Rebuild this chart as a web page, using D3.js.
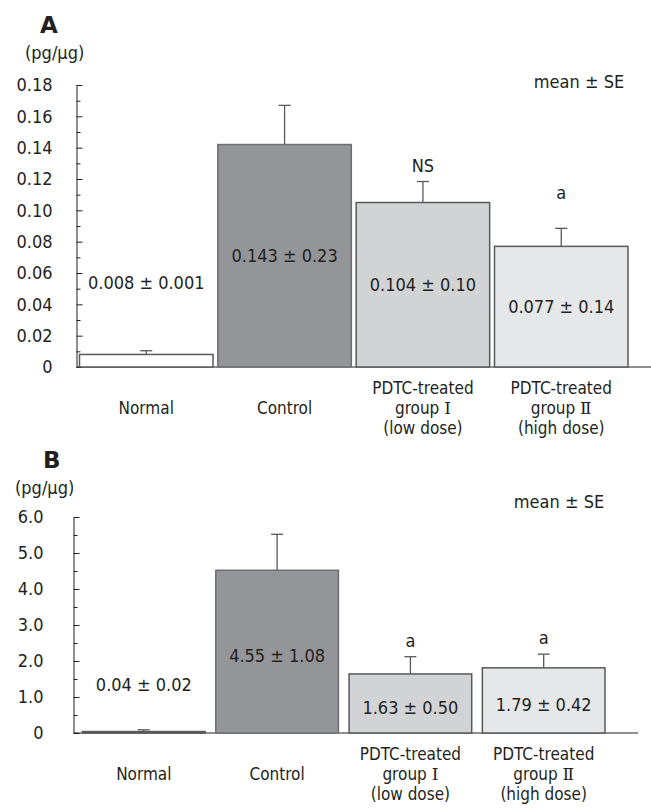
<!DOCTYPE html>
<html lang="en">
  <head>
    <meta charset="UTF-8" />
    <title>PDTC bar chart</title>
    <script src="https://d3js.org/d3.v7.min.js"></script>
    <style>
      body {
        margin: 0;
        background: #fff;
      }
      svg text {
        font-family: "DejaVu Sans Condensed", "DejaVu Sans", sans-serif;
        font-stretch: condensed;
        fill: #231f20;
      }
      svg text .roman {
        font-family: "Liberation Serif", "DejaVu Serif", serif;
        font-stretch: normal;
      }
    </style>
  </head>
  <body>
    <div id="chart"></div>
    <script>
      // data
      const categories = ["Normal", "Control", "PDTC-treated group Ⅰ (low dose)", "PDTC-treated group Ⅱ (high dose)"];
      const categoryLines = [
        ["Normal"],
        ["Control"],
        ["PDTC-treated", "group |Ⅰ", "(low dose)"],
        ["PDTC-treated", "group |Ⅱ", "(high dose)"],
      ];

      const meanA = [0.008, 0.142, 0.105, 0.077];
      const errA = [0.0024, 0.025, 0.0134, 0.0115];
      const textA = ["0.008 ± 0.001", "0.143 ± 0.23", "0.104 ± 0.10", "0.077 ± 0.14"];
      const sigA = ["", "", "NS", "a"];
      const ticksA = [0, 0.02, 0.04, 0.06, 0.08, 0.1, 0.12, 0.14, 0.16, 0.18];
      const minorA = [0.01, 0.03, 0.05, 0.07, 0.09, 0.11, 0.13, 0.15, 0.17];

      const meanB = [0.04, 4.52, 1.64, 1.81];
      const errB = [0.05, 1.0, 0.48, 0.38];
      const textB = ["0.04 ± 0.02", "4.55 ± 1.08", "1.63 ± 0.50", "1.79 ± 0.42"];
      const sigB = ["", "", "a", "a"];
      const ticksB = [0, 1, 2, 3, 4, 5, 6];
      const minorB = [0.5, 1.5, 2.5, 3.5, 4.5, 5.5];

      const fills = ["#ffffff", "#939598", "#d1d3d4", "#e6e7e8"];

      var width = 651,
        height = 809;

      var svg = d3
        .select("#chart")
        .append("svg")
        .attr("width", width)
        .attr("height", height);

      function drawPanel(p) {
        var g = svg.append("g");

        const y = d3.scaleLinear().domain([0, p.ticks[p.ticks.length - 1]]).range([p.y0, p.y1]);
        const x = d3.scaleBand().domain(categories).range([p.x0, p.x1]).paddingInner(p.pad).paddingOuter(0);

        // panel letter + unit
        g.append("text")
          .attr("x", p.letterX)
          .attr("y", p.letterY)
          .style("font-family", "'DejaVu Sans', sans-serif")
          .style("font-stretch", "normal")
          .style("font-weight", "bold")
          .style("font-size", "23px")
          .text(p.letter);
        g.append("text")
          .attr("x", p.unitX)
          .attr("y", p.unitY)
          .attr("dy", "0.35em")
          .style("font-size", "18px")
          .text("(pg/μg)");
        g.append("text")
          .attr("x", p.meanX)
          .attr("y", p.meanY)
          .attr("dy", "0.35em")
          .attr("text-anchor", "middle")
          .style("font-size", "18px")
          .text("mean ± SE");

        // y axis, minor then major ticks
        var minorAxis = g
          .append("g")
          .attr("transform", `translate(${p.axisX},0)`)
          .call(d3.axisLeft(y).tickValues(p.minor).tickSizeInner(-4).tickSizeOuter(0).tickFormat(""));
        minorAxis.select(".domain").remove();

        var axis = g
          .append("g")
          .attr("transform", `translate(${p.axisX},0)`)
          .call(
            d3
              .axisLeft(y)
              .tickValues(p.ticks)
              .tickSizeInner(-6)
              .tickSizeOuter(0)
              .tickPadding(p.labelPad)
              .tickFormat(p.fmt)
          );
        axis.selectAll("text").style("font-size", "18px").attr("font-family", null).attr("fill", "#231f20");
        svg.selectAll(".tick line").attr("stroke", "#231f20");
        axis.select(".domain").attr("stroke", "#231f20");

        // baseline
        g.append("line")
          .attr("x1", p.axisX)
          .attr("x2", p.baseEnd)
          .attr("y1", y(0))
          .attr("y2", y(0))
          .attr("stroke", "#231f20")
          .attr("stroke-width", 1.2);

        const rows = categories.map((c, i) => ({
          c: c,
          i: i,
          v: p.mean[i],
          e: p.err[i],
          t: p.text[i],
          s: p.sig[i],
        }));

        // error bars (behind the bars)
        rows.forEach(function (d) {
          var cx = x(d.c) + x.bandwidth() / 2;
          g.append("line")
            .attr("x1", cx)
            .attr("x2", cx)
            .attr("y1", y(d.v))
            .attr("y2", y(d.v + d.e))
            .attr("stroke", "#58595b")
            .attr("stroke-width", 1.3);
          g.append("line")
            .attr("x1", cx - 6)
            .attr("x2", cx + 6)
            .attr("y1", y(d.v + d.e))
            .attr("y2", y(d.v + d.e))
            .attr("stroke", "#58595b")
            .attr("stroke-width", 1.3);
        });

        g.selectAll("rect")
          .data(rows)
          .enter()
          .append("rect")
          .attr("x", (d) => x(d.c))
          .attr("y", (d) => y(d.v))
          .attr("width", x.bandwidth())
          .attr("height", (d) => y(0) - y(d.v))
          .attr("fill", (d) => fills[d.i])
          .attr("stroke", (d) => (d.i == 1 ? "#6d6e71" : "#58595b"))
          .attr("stroke-width", 1.5);

        // value labels
        g.selectAll(".val")
          .data(rows)
          .enter()
          .append("text")
          .attr("class", "val")
          .attr("x", (d) => x(d.c) + x.bandwidth() / 2)
          .attr("y", (d) => (d.i == 0 ? p.normalLabelY : y(d.v / 2) + p.valDy))
          .attr("dy", "0.35em")
          .attr("text-anchor", "middle")
          .style("font-size", "18px")
          .text((d) => d.t);

        // significance marks
        g.selectAll(".sig")
          .data(rows.filter((d) => d.s))
          .enter()
          .append("text")
          .attr("class", "sig")
          .attr("x", (d) => x(d.c) + x.bandwidth() / 2)
          .attr("y", (d) => y(d.v + d.e) - p.sigGap[d.i])
          .attr("dy", "0.35em")
          .attr("text-anchor", "middle")
          .style("font-size", "18px")
          .text((d) => d.s);

        // category labels ("|" splits off the roman numeral)
        rows.forEach(function (d) {
          var lines = categoryLines[d.i];
          var start = lines.length == 1 ? 1 : 0;
          lines.forEach(function (line, k) {
            var t = g
              .append("text")
              .attr("x", x(d.c) + x.bandwidth() / 2)
              .attr("y", y(0) + 21 + (start + k) * 20)
              .attr("dy", "0.35em")
              .attr("text-anchor", "middle")
              .style("font-size", "17px");
            var parts = line.split("|");
            t.append("tspan").text(parts[0]);
            if (parts[1]) t.append("tspan").attr("class", "roman").text(parts[1]);
          });
        });
      }

      drawPanel({
        letter: "A",
        letterX: 40,
        letterY: 33,
        unitX: 25,
        unitY: 53,
        meanX: 579,
        meanY: 82,
        mean: meanA,
        err: errA,
        text: textA,
        sig: sigA,
        ticks: ticksA,
        minor: minorA,
        fmt: (d) => (d === 0 ? "0" : d.toFixed(2)),
        y0: 367,
        y1: 85,
        x0: 79.5,
        x1: 628,
        pad: 0.035,
        axisX: 76.5,
        labelPad: 24,
        baseEnd: 651,
        normalLabelY: 283,
        valDy: 0,
        sigGap: [0, 0, 16, 36],
      });

      drawPanel({
        letter: "B",
        letterX: 43,
        letterY: 468,
        unitX: 15,
        unitY: 488,
        meanX: 559,
        meanY: 502,
        mean: meanB,
        err: errB,
        text: textB,
        sig: sigB,
        ticks: ticksB,
        minor: minorB,
        fmt: (d) => (d === 0 ? "0" : d.toFixed(1)),
        y0: 733,
        y1: 517,
        x0: 82.5,
        x1: 605,
        pad: 0.08,
        axisX: 73.5,
        labelPad: 30,
        baseEnd: 638,
        normalLabelY: 685,
        valDy: 4,
        sigGap: [0, 0, 16, 16],
      });
    </script>
  </body>
</html>
